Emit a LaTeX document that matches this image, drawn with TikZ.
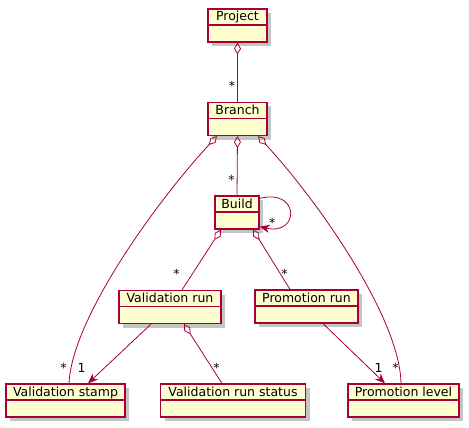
\documentclass[tikz,border=0pt]{standalone}
\usepackage{fontspec}
\setmainfont{DejaVu Sans}
\usetikzlibrary{arrows.meta,shadows}
\definecolor{umlborder}{HTML}{A80036}
\definecolor{umlfill}{HTML}{FEFECE}
\tikzset{
  umlclass/.style={draw=umlborder, fill=umlfill, line width=1.2pt, inner xsep=0pt, inner ysep=2pt,
    text height=10pt, text depth=19pt, font=\fontsize{12.5}{15}\selectfont,
    drop shadow={shadow xshift=4pt, shadow yshift=-4pt, fill=black!45, opacity=.5},
    path picture={\draw[umlborder, line width=1.2pt] ([yshift=-16pt]path picture bounding box.north west)
      -- ([yshift=-16pt]path picture bounding box.north east);}},
  assoc/.style={draw=umlborder, line width=0.8pt},
  agg/.style={assoc, {Diamond[open, length=12pt, width=7pt]}-},
  nav/.style={assoc, -{Stealth[length=10pt, width=8pt, inset=3pt]}},
  mult/.style={font=\fontsize{12.5}{15}\selectfont, inner sep=0pt, pos=1, anchor=base east, xshift=-2pt, yshift=11pt}
}
\begin{document}
\begin{tikzpicture}[x=1pt, y=-1pt]
\useasboundingbox (0,0) rectangle (469,428);
\node[umlclass, minimum width=59pt] (project) at (237.5,25.5) {Project};
\node[umlclass, minimum width=59pt] (branch) at (237.5,119) {Branch};
\node[umlclass, minimum width=44pt] (build) at (237,212.5) {Build};
\node[umlclass, minimum width=102pt] (valrun) at (170,307) {Validation run};
\node[umlclass, minimum width=103pt] (promrun) at (306.5,306.5) {Promotion run};
\node[umlclass, minimum width=119pt] (valstamp) at (65.5,400.5) {Validation stamp};
\node[umlclass, minimum width=145pt] (valstatus) at (233,400.5) {Validation run status};
\node[umlclass, minimum width=111pt] (promlevel) at (403.5,400.5) {Promotion level};
\draw[agg] (project.south) -- (branch.north) node[mult] {*};
\draw[agg] (branch.south) -- (build.north) node[mult] {*};
\draw[agg] ([xshift=-20.5pt]branch.south) .. controls (157,201) and (72,318) .. ([xshift=3.5pt]valstamp.north) node[mult] {*};
\draw[agg] ([xshift=20.5pt]branch.south) .. controls (318,201) and (400,318) .. ([xshift=-2.5pt]promlevel.north) node[mult] {*};
\draw[nav] ([yshift=-3pt]build.north east) .. controls (300,188) and (300,236) .. ([yshift=3pt]build.south east)
  node[mult, anchor=base west, xshift=11pt, yshift=-12pt] {*};
\draw[agg] ([xshift=-16pt]build.south) -- ([xshift=12pt]valrun.north) node[mult] {*};
\draw[agg] ([xshift=16pt]build.south) -- ([xshift=-16.5pt]promrun.north) node[mult] {*};
\draw[nav] ([xshift=-19pt]valrun.south) -- ([xshift=22.5pt]valstamp.north) node[mult] {1};
\draw[agg] ([xshift=14pt]valrun.south) -- ([xshift=-11pt]valstatus.north) node[mult] {*};
\draw[nav] ([xshift=16.5pt]promrun.south) -- ([xshift=-18.5pt]promlevel.north) node[mult] {1};
\end{tikzpicture}
\end{document}
